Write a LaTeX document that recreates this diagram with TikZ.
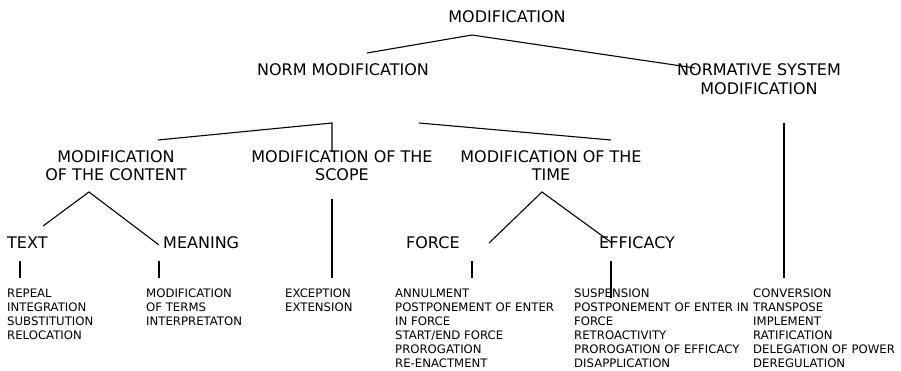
\documentclass[tikz,border=0pt]{standalone}
\usepackage{fontspec}
\setmainfont{DejaVu Sans}
\begin{document}
\begin{tikzpicture}[x=1pt,y=-1pt,
  big/.style={font=\fontsize{16}{18}\selectfont, inner sep=0pt, align=center, anchor=base},
  leaf/.style={big, anchor=base west},
  list/.style={font=\fontsize{11.7}{14}\selectfont, inner sep=0pt, align=left, anchor=base west},
  link/.style={line width=1.1pt, line cap=butt}]
\useasboundingbox (0,0) rectangle (901,371);

% top levels (multi-line nodes are placed by the baseline of their last line)
\node[big] (mod) at (507,23) {MODIFICATION};
\node[big] (norm) at (343,76) {NORM MODIFICATION};
\node[big, font=\fontsize{16}{19}\selectfont] (sys) at (759,95) {NORMATIVE SYSTEM\\MODIFICATION};

% second level
\node[big] (content) at (116,181) {MODIFICATION\\OF THE CONTENT};
\node[big] (scope) at (342,181) {MODIFICATION OF THE\\SCOPE};
\node[big] (time) at (551,181) {MODIFICATION OF THE\\TIME};

% third level
\node[leaf] (text) at (7,248) {TEXT};
\node[leaf] (meaning) at (163,248) {MEANING};
\node[leaf] (force) at (406,248) {FORCE};
\node[leaf] (efficacy) at (599,248) {EFFICACY};

% lists
\node[list] (textlist) at (7,339) {REPEAL\\INTEGRATION\\SUBSTITUTION\\RELOCATION};
\node[list] (meaninglist) at (146,325) {MODIFICATION\\OF TERMS\\INTERPRETATON};
\node[list] (scopelist) at (285,311) {EXCEPTION\\EXTENSION};
\node[list] (forcelist) at (395,367) {ANNULMENT\\POSTPONEMENT OF ENTER\\IN FORCE\\START/END FORCE\\PROROGATION\\RE-ENACTMENT};
\node[list] (efficacylist) at (574,367) {SUSPENSION\\POSTPONEMENT OF ENTER IN\\FORCE\\RETROACTIVITY\\PROROGATION OF EFFICACY\\DISAPPLICATION};
\node[list] (syslist) at (753,367) {CONVERSION\\TRANSPOSE\\IMPLEMENT\\RATIFICATION\\DELEGATION OF POWER\\DEREGULATION};

% joints and free ends of the connectors
\coordinate (jmod) at (472,35);
\coordinate (enorm) at (367,53);
\coordinate (esys) at (695,68);
\coordinate (jnorm) at (332,123);
\coordinate (econtent) at (158,140);
\coordinate (escope) at (332,152);
\coordinate (stime) at (419,123);
\coordinate (etime) at (611,140);
\coordinate (ssys) at (784,123);
\coordinate (esys2) at (784,278);
\coordinate (jcontent) at (89,192);
\coordinate (etext) at (43,226);
\coordinate (emeaning) at (159,245);
\coordinate (sscope) at (332,199);
\coordinate (escope2) at (332,278);
\coordinate (jtime) at (542,192);
\coordinate (eforce) at (489,243);
\coordinate (eefficacy) at (612,243);
\coordinate (ttext1) at (20,261);
\coordinate (ttext2) at (20,278);
\coordinate (tmeaning1) at (159,261);
\coordinate (tmeaning2) at (159,278);
\coordinate (tforce1) at (472,261);
\coordinate (tforce2) at (472,278);
\coordinate (tefficacy1) at (611,261);
\coordinate (tefficacy2) at (611,298);

% connectors
\draw[link] (enorm) -- (jmod) -- (esys);
\draw[link] (econtent) -- (jnorm) -- (escope);
\draw[link] (stime) -- (etime);
\draw[link] (ssys) -- (esys2);
\draw[link] (etext) -- (jcontent) -- (emeaning);
\draw[link] (sscope) -- (escope2);
\draw[link] (eforce) -- (jtime) -- (eefficacy);
\draw[link] (ttext1) -- (ttext2);
\draw[link] (tmeaning1) -- (tmeaning2);
\draw[link] (tforce1) -- (tforce2);
\draw[link] (tefficacy1) -- (tefficacy2);
\end{tikzpicture}
\end{document}
